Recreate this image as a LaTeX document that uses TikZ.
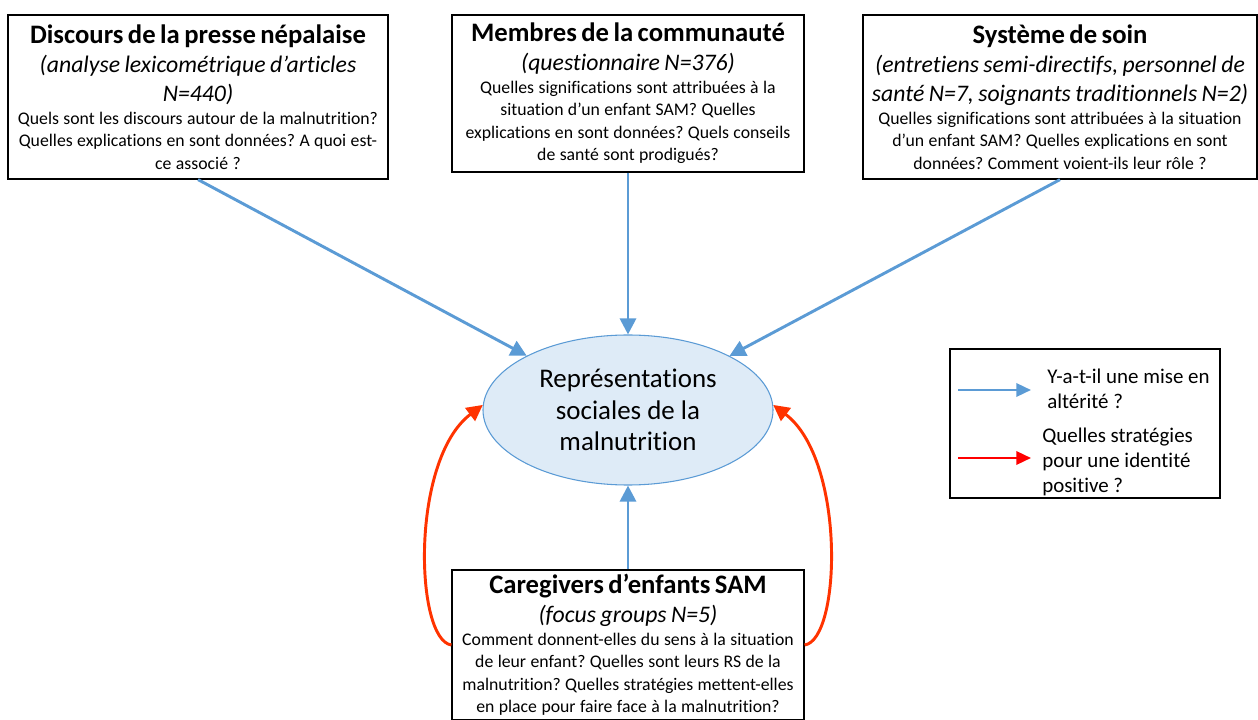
\documentclass[tikz,border=0pt]{standalone}
\usepackage{fontspec}
\setmainfont{Carlito}[Ligatures={NoCommon}]
\usetikzlibrary{arrows.meta,shapes.geometric}
\definecolor{arblue}{HTML}{5B9BD5}
\definecolor{ellfill}{HTML}{DEEBF7}
\definecolor{arred}{HTML}{FF3300}
\definecolor{legred}{HTML}{FF0000}
\newcommand{\ttl}[1]{{\fontsize{20}{23.5}\selectfont\bfseries #1\par}}
\newcommand{\sub}[1]{{\fontsize{17.8}{21.8}\selectfont\itshape #1\par}}
\newcommand{\bod}[1]{{\fontsize{13.3}{16.9}\selectfont #1\par}}
\tikzset{
  srcbox/.style={draw=black, line width=0.9pt, inner sep=2pt, align=center},
  bluearrow/.style={draw=arblue, line width=2.2pt, -{Triangle[length=12pt,width=12pt]}},
  redarrow/.style={draw=arred, line width=2.2pt, -{Triangle[length=12pt,width=12pt]}},
  legtext/.style={font=\fontsize{15.7}{18.8}\selectfont, align=left, anchor=west, inner sep=0pt},
}
\begin{document}
\frenchspacing
\begin{tikzpicture}[x=0.75pt,y=-0.75pt]
\useasboundingbox (0,0) rectangle (1258,720);
% source boxes
\node[srcbox, minimum width=380*0.75pt, minimum height=164*0.75pt, text width=372*0.75pt] (b1) at (198,97)
  {\ttl{Discours de la presse népalaise}\sub{(analyse lexicométrique d’articles\\N=440)}\bod{Quels sont les discours autour de la malnutrition?\\Quelles explications en sont données? A quoi est-\\ce associé ?}};
\node[srcbox, minimum width=352*0.75pt, minimum height=157*0.75pt, text width=346*0.75pt] (b2) at (628,93.5)
  {\ttl{Membres de la communauté}\sub{(questionnaire N=376)}\bod{Quelles significations sont attribuées à la\\situation d’un enfant SAM? Quelles\\explications en sont données? Quels conseils\\de santé sont prodigués?}};
\node[srcbox, minimum width=394*0.75pt, minimum height=164*0.75pt, text width=388*0.75pt] (b3) at (1060,97)
  {\ttl{Système de soin}\sub{(entretiens semi-directifs, personnel de\\santé N=7, soignants traditionnels N=2)}\bod{Quelles significations sont attribuées à la situation\\d’un enfant SAM? Quelles explications en sont\\données? Comment voient-ils leur rôle ?}};
\node[srcbox, minimum width=352*0.75pt, minimum height=150*0.75pt, text width=346*0.75pt] (b4) at (628,645)
  {\ttl{Caregivers d’enfants SAM}\sub{(focus groups N=5)}\bod{Comment donnent-elles du sens à la situation\\de leur enfant? Quelles sont leurs RS de la\\malnutrition? Quelles stratégies mettent-elles\\en place pour faire face à la malnutrition?}};
% central ellipse
\node[ellipse, draw=arblue, line width=0.8pt, fill=ellfill, minimum width=290*0.75pt, minimum height=150*0.75pt, align=center, font=\fontsize{20.2}{23.6}\selectfont, inner sep=0pt] (ell) at (628,410)
  {Représentations\\sociales de la\\malnutrition};
% connectors
\draw[bluearrow] (b1.south) -- (ell);
\draw[bluearrow] (b2.south) -- (ell);
\draw[bluearrow] (b3.south) -- (ell);
\draw[bluearrow] (b4.north) -- (ell);
\draw[redarrow] (b4.west) .. controls (415,640) and (410,460) .. (ell.178);
\draw[redarrow] (b4.east) .. controls (841,640) and (846,460) .. (ell.2);
% legend
\node[draw=black, line width=0.9pt, minimum width=270*0.75pt, minimum height=149*0.75pt, inner sep=0pt] (leg) at (1085,423.5) {};
\coordinate (lb1) at (958,390);
\coordinate (lb2) at (1031,390);
\coordinate (lr1) at (958,458);
\coordinate (lr2) at (1031,458);
\draw[draw=arblue, line width=1.8pt, -{Triangle[length=11pt,width=10pt]}] (lb1) -- (lb2);
\draw[draw=legred, line width=1.8pt, -{Triangle[length=11pt,width=10pt]}] (lr1) -- (lr2);
\node[legtext] (lt1) at (1047,389) {Y-a-t-il une mise en\\altérité ?};
\node[legtext] (lt2) at (1042,462) {Quelles stratégies\\pour une identité\\positive ?};
\end{tikzpicture}
\end{document}
